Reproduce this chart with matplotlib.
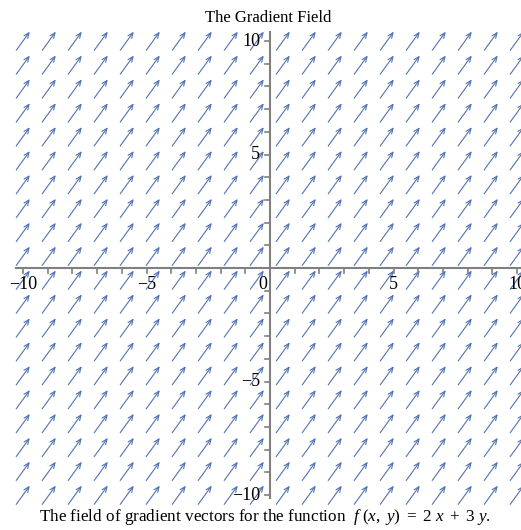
import numpy as np
import matplotlib
matplotlib.use("Agg")
import matplotlib.pyplot as plt
from matplotlib.patches import FancyArrowPatch

# f(x, y) = 2x + 3y  ->  gradient is constant
grad = [2.0, 3.0]
x_grid = np.linspace(-10, 10, 20)
y_grid = np.linspace(-10, 10, 20)
tick_pos = [-10, -5, 0, 5, 10]
tick_labels = ["\u221210", "\u22125", "0", "5", "10"]

plt.rcParams['font.family'] = ['Liberation Serif', 'DejaVu Serif']
plt.rcParams['mathtext.fontset'] = 'custom'
plt.rcParams['mathtext.rm'] = 'Liberation Serif'
plt.rcParams['mathtext.it'] = 'Liberation Serif:italic'

fig = plt.figure(figsize=(5.21, 5.30), dpi=100)
ax = fig.add_axes([23 / 521, 35 / 530, 494 / 521, 454 / 530])
ax.set_xlim(-10, 10)
ax.set_ylim(-10, 10)
ax.axis('off')

arrow_col = '#5272b2'
k = 0.275
u, v = grad[0] * k, grad[1] * k
for xg in x_grid:
    for yg in y_grid:
        a = FancyArrowPatch((xg - u / 2, yg - v / 2), (xg + u / 2, yg + v / 2),
                            arrowstyle='->,head_length=0.38,head_width=0.16',
                            mutation_scale=10, color=arrow_col, lw=0.8,
                            shrinkA=0, shrinkB=0, clip_on=False)
        ax.add_patch(a)

# axes through the origin
axc = '#7f7f7f'
ax.plot([-10.3, 10.3], [0, 0], color=axc, lw=1.5, clip_on=False, zorder=3)
ax.plot([0, 0], [-10.15, 10.4], color=axc, lw=1.5, clip_on=False, zorder=3)
for t in range(-10, 11):
    if t == 0:
        continue
    ax.plot([t, t], [0, -0.2], color=axc, lw=1.2, clip_on=False, zorder=3)
    ax.plot([0, -0.22], [t, t], color=axc, lw=1.2, clip_on=False, zorder=3)

for p, lab in zip(tick_pos, tick_labels):
    if p == 0:
        ax.text(-0.3, -0.35, lab, ha='center', va='top', fontsize=13, zorder=4)
        continue
    ax.text(p, -0.35, lab, ha='center', va='top', fontsize=13, zorder=4)
    ax.text(-0.4, p, lab, ha='right', va='center', fontsize=13, zorder=4)

fig.text(268 / 521, 1 - 18 / 530, "The Gradient Field", ha='center', va='center', fontsize=12)
fig.text(265 / 521, 1 - 517 / 530,
         r"The field of gradient vectors for the function  $f\ (x,\ y)\ =\ 2\ x\ +\ 3\ y$.",
         ha='center', va='center', fontsize=12.3)

fig.savefig('out.png', dpi=100)
